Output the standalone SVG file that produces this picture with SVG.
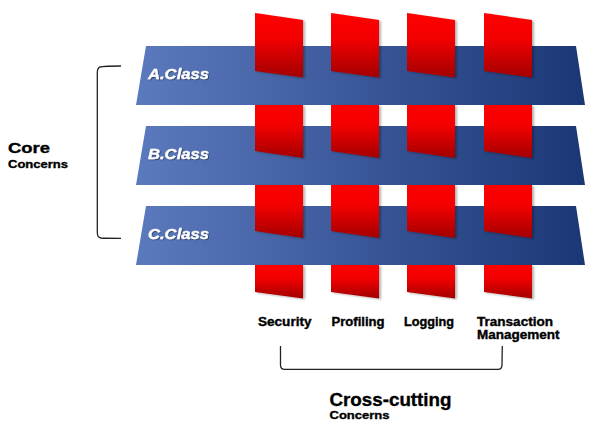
<svg xmlns="http://www.w3.org/2000/svg" width="596" height="429" viewBox="0 0 596 429">
<defs>
<linearGradient id="barGrad" x1="0" y1="0" x2="1" y2="0">
<stop offset="0" stop-color="#5b7abd"/>
<stop offset="0.5" stop-color="#3a5799"/>
<stop offset="1" stop-color="#1b3775"/>
</linearGradient>
<linearGradient id="redGrad" x1="0" y1="0" x2="0" y2="1">
<stop offset="0" stop-color="#ff0000"/>
<stop offset="0.4" stop-color="#f20000"/>
<stop offset="1" stop-color="#a20000"/>
</linearGradient>
<filter id="tabShadow" x="-20%" y="-20%" width="150%" height="150%">
<feDropShadow dx="2" dy="1" stdDeviation="1" flood-color="#000" flood-opacity="0.3"/>
</filter>
<filter id="textShadow" x="-10%" y="-30%" width="130%" height="160%">
<feDropShadow dx="0.8" dy="0.8" stdDeviation="0.5" flood-color="#000" flood-opacity="0.5"/>
</filter>
</defs>
<style>
.bar{fill:url(#barGrad);}
.tab{fill:url(#redGrad);filter:url(#tabShadow);}
.cls{font-family:"Liberation Sans",Arial,sans-serif;font-weight:bold;font-style:italic;font-size:14.5px;fill:#ffffff;stroke:#ffffff;stroke-width:0.3;filter:url(#textShadow);}
.lbl{font-family:"Liberation Sans",Arial,sans-serif;font-weight:bold;font-size:12px;fill:#000000;stroke:#000000;stroke-width:0.35;}
.big{font-family:"Liberation Sans",Arial,sans-serif;font-weight:bold;fill:#000000;stroke:#000000;stroke-width:0.35;}
.brk{fill:none;stroke:#222;stroke-width:1.3;}
</style>
<rect width="596" height="429" fill="#ffffff"/>

<g id="class-a">
<polygon class="bar" points="146,46 576,46 585,105 136,105"/>
<text class="cls" x="148" y="79" textLength="61" lengthAdjust="spacingAndGlyphs">A.Class</text>
</g>
<g id="class-b">
<polygon class="bar" points="146,126 576,126 585,185 136,185"/>
<text class="cls" x="148" y="159" textLength="61" lengthAdjust="spacingAndGlyphs">B.Class</text>
</g>
<g id="class-c">
<polygon class="bar" points="146,206 576,206 585,265 136,265"/>
<text class="cls" x="148" y="239" textLength="61" lengthAdjust="spacingAndGlyphs">C.Class</text>
</g>

<g id="security">
<polygon class="tab" points="255,13 303,20 303,77.5 255,71"/>
<polygon class="tab" points="255,105 303,105 303,158 255,151"/>
<polygon class="tab" points="255,185 303,185 303,238 255,231"/>
<polygon class="tab" points="255,265 303,265 303,298.5 255,292"/>
<text class="lbl" x="258" y="325.7" textLength="53.5" lengthAdjust="spacingAndGlyphs">Security</text>
</g>
<g id="profiling">
<polygon class="tab" points="331,13 379,20 379,77.5 331,71"/>
<polygon class="tab" points="331,105 379,105 379,158 331,151"/>
<polygon class="tab" points="331,185 379,185 379,238 331,231"/>
<polygon class="tab" points="331,265 379,265 379,298.5 331,292"/>
<text class="lbl" x="331.5" y="325.7" textLength="53" lengthAdjust="spacingAndGlyphs">Profiling</text>
</g>
<g id="logging">
<polygon class="tab" points="407,13 455,20 455,77.5 407,71"/>
<polygon class="tab" points="407,105 455,105 455,158 407,151"/>
<polygon class="tab" points="407,185 455,185 455,238 407,231"/>
<polygon class="tab" points="407,265 455,265 455,298.5 407,292"/>
<text class="lbl" x="404" y="325.7" textLength="50" lengthAdjust="spacingAndGlyphs">Logging</text>
</g>
<g id="transaction-management">
<polygon class="tab" points="484,13 532,20 532,77.5 484,71"/>
<polygon class="tab" points="484,105 532,105 532,158 484,151"/>
<polygon class="tab" points="484,185 532,185 532,238 484,231"/>
<polygon class="tab" points="484,265 532,265 532,298.5 484,292"/>
<text class="lbl" x="477" y="325.7" textLength="76" lengthAdjust="spacingAndGlyphs">Transaction</text>
<text class="lbl" x="477" y="339" textLength="82.5" lengthAdjust="spacingAndGlyphs">Management</text>
</g>

<g id="connectors">
<path class="brk" d="M121,66 C108,66 100,66 99,67.5 C97.3,69 97.3,70 97.3,72 L97.3,232 C97.3,236 98,237.5 101,238 C104,238.3 110,238.3 121,238.3"/>
<path class="brk" d="M280.5,346 L280.5,365 C280.5,368 281.5,369.3 284.5,369.3 L498,369.3 C501,369.3 502,368 502,365 L502.3,346"/>
</g>

<g id="core-concerns">
<text class="big" x="8" y="153.3" font-size="15" textLength="42" lengthAdjust="spacingAndGlyphs">Core</text>
<text class="big" x="8" y="168" font-size="10.5" textLength="60" lengthAdjust="spacingAndGlyphs">Concerns</text>
</g>
<g id="crosscutting-concerns">
<text class="big" x="329.5" y="405.7" font-size="18" textLength="122" lengthAdjust="spacingAndGlyphs">Cross-cutting</text>
<text class="big" x="329.5" y="419.3" font-size="10.8" textLength="60" lengthAdjust="spacingAndGlyphs">Concerns</text>
</g>
</svg>
